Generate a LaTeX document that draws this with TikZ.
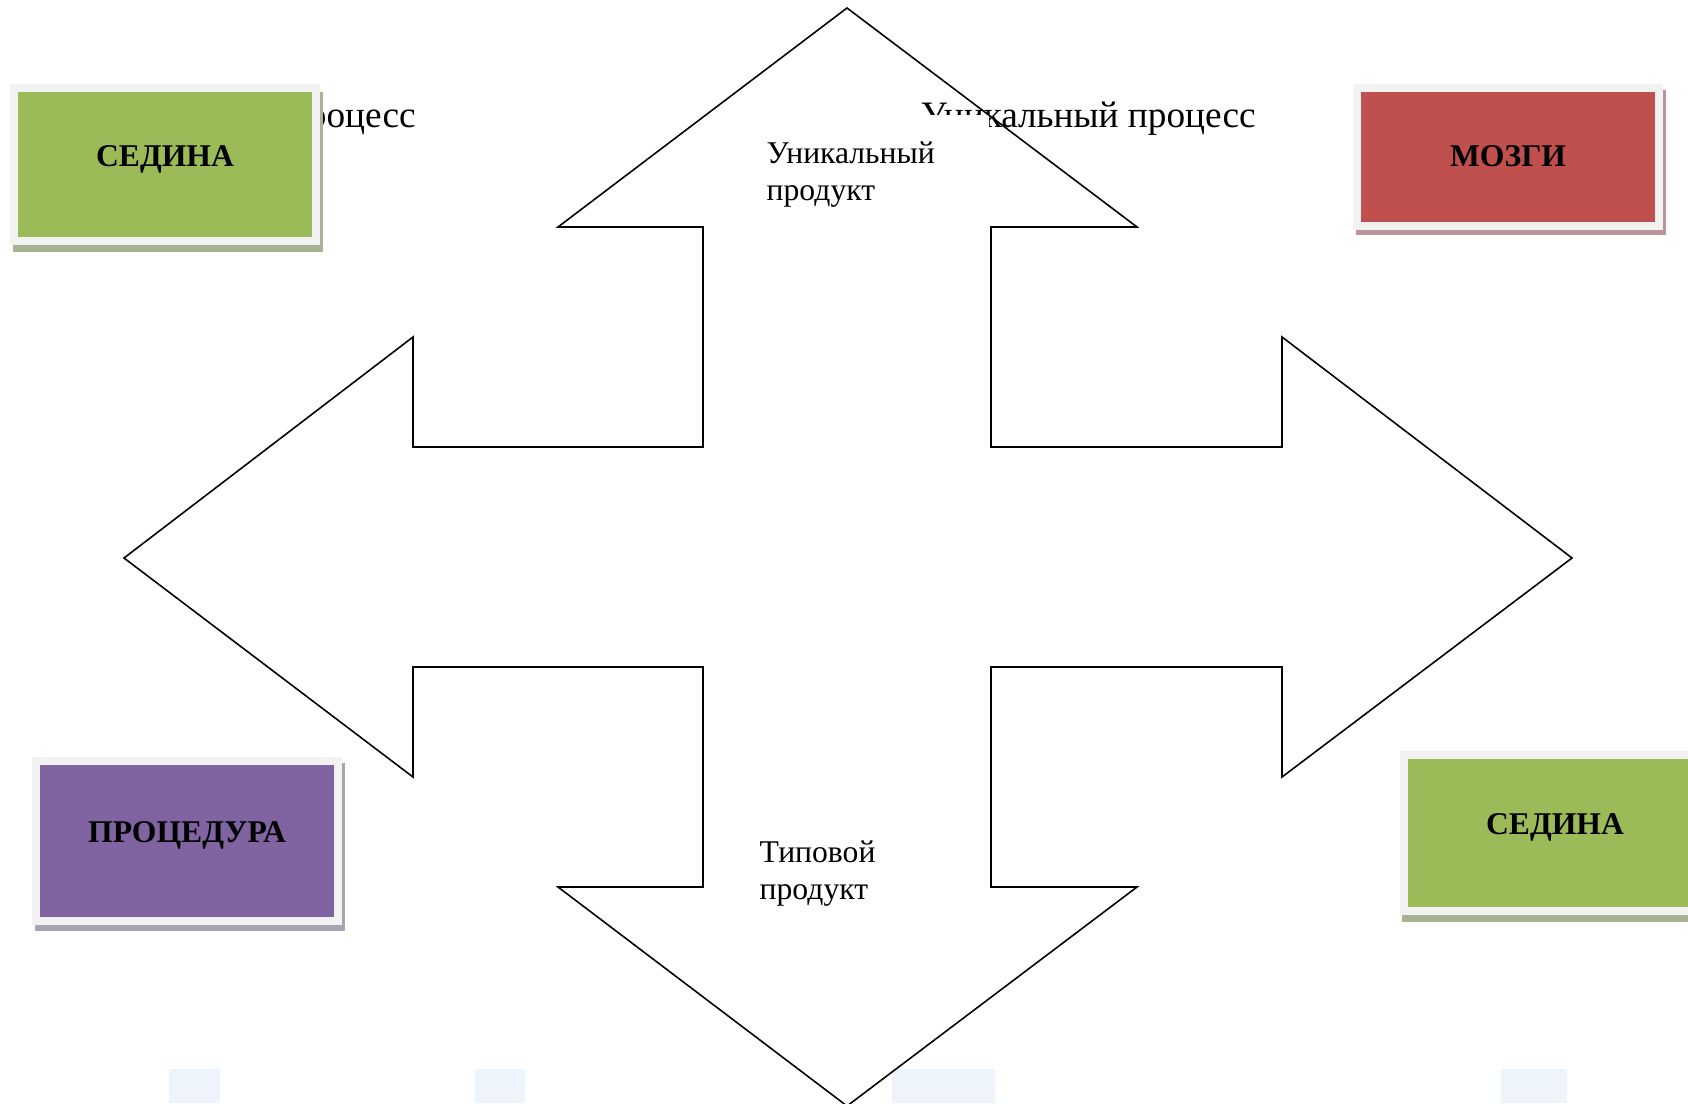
\documentclass[tikz,border=0pt]{standalone}
\usepackage{fontspec}
\setmainfont{Liberation Serif}
\definecolor{sedina}{HTML}{9BBB59}
\definecolor{sedinashadow}{HTML}{A8B394}
\definecolor{mozgi}{HTML}{C0504D}
\definecolor{mozgishadow}{HTML}{B89597}
\definecolor{procedura}{HTML}{8064A2}
\definecolor{procedurashadow}{HTML}{A8A3B1}
\definecolor{tileframe}{HTML}{F2F2F2}
\definecolor{paleblue}{HTML}{EEF4FB}
\begin{document}
\begin{tikzpicture}[x=0.01cm,y=-0.01cm]
          \tikzstyle{tile}=[draw=tileframe,line width=2.28pt,inner sep=0pt,text height=7pt,text depth=6pt,minimum width=3.02cm,font=\bfseries\fontsize{9}{11}\selectfont]
          \tikzstyle{caption}=[anchor=north west,inner sep=0pt,align=left,font=\fontsize{9}{10.6}\selectfont]
          \tikzstyle{process}=[anchor=base west,inner sep=0pt,font=\fontsize{10.6}{12}\selectfont]
          \tikzstyle{cross}=[draw,line width=0.45pt,line join=miter]
          \useasboundingbox (0,0) rectangle (1688,1103);
          % faint blocks at the foot
          \fill[paleblue] (169,1069) rectangle (220,1103);
          \fill[paleblue] (475,1069) rectangle (525,1103);
          \fill[paleblue] (892,1069) rectangle (995,1103);
          \fill[paleblue] (1501,1069) rectangle (1567,1103);
          % process texts
          \node [process] (pl) at (80,127) {Уникальный процесс};
          \begin{scope}
             \clip (989,0) rectangle (1400,200) (900,0) rectangle (1400,114);
             \node [process] (pr) at (920,127) {Уникальный процесс};
          \end{scope}
          % four-way arrow
          \path[cross] (847,8) -- (1137,227) -- (991,227) -- (991,447) -- (1282,447) -- (1282,337)
             -- (1572,558) -- (1282,777) -- (1282,667) -- (991,667) -- (991,887) -- (1137,887)
             -- (847,1106) -- (558,887) -- (703,887) -- (703,667) -- (413,667) -- (413,777)
             -- (124,558) -- (413,337) -- (413,447) -- (703,447) -- (703,227) -- (558,227) -- cycle;
          \node [caption] (top) at (766,141) {Уникальный\\продукт};
          \node [caption] (bottom) at (759,840) {Типовой\\продукт};
          % tiles
          \fill[sedinashadow] (13,92) rectangle (323,252);
          \node [tile,fill=sedina,minimum height=1.53cm] (gray1) at (165,164.5) {СЕДИНА};
          \fill[mozgishadow] (1356,90) rectangle (1666,235);
          \node [tile,fill=mozgi,minimum height=1.38cm,text depth=1.5pt] (brain) at (1508,157) {МОЗГИ};
          \fill[procedurashadow] (35,763) rectangle (345,931);
          \node [tile,fill=procedura,minimum height=1.6cm] (proc) at (187,841) {ПРОЦЕДУРА};
          \fill[sedinashadow] (1402,757) rectangle (1712,922);
          \node [tile,fill=sedina,minimum height=1.56cm] (gray2) at (1555,833) {СЕДИНА};
        \end{tikzpicture}
\end{document}
